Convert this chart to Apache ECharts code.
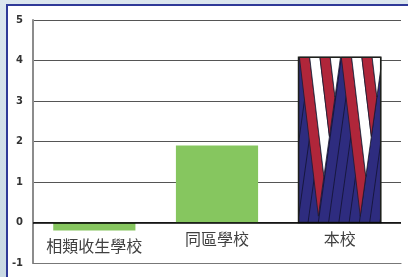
<!DOCTYPE html>
<html>
<head>
<meta charset="utf-8">
<script src="https://cdn.jsdelivr.net/npm/echarts@6/dist/echarts.min.js"></script>
<style>
  html, body { margin: 0; padding: 0; }
  body { width: 408px; height: 277px; overflow: hidden; position: relative;
         background: linear-gradient(to bottom, #dbe6ee, #c9d9e3); }
  #frame { position: absolute; left: 6px; top: 4px; right: -10px; bottom: -10px;
           border-left: 2px solid #2f3a98; border-top: 2px solid #2f3a98; background: #fff; }
  #chart { position: absolute; left: 0; top: 0; width: 408px; height: 277px; }
</style>
</head>
<body>
<div id="frame"></div>
<div id="chart"></div>
<script>
// 數據
var categories = ['相類收生學校', '同區學校', '本校'];
var values = [-0.2, 1.9, 4.08];
var yTicks = [-1, 0, 1, 2, 3, 4, 5];
var flagIndex = 2; // 本校 用圖案填色

var chart = echarts.init(document.getElementById('chart'), null, {renderer: 'canvas'});

// 紋理參數 (柱子寬高比例)
var stripeSlope = 0.24;   // 紅白條 "\" 方向
var cutSlope = 0.28;      // 深藍 "/" 方向
var stripeW = 0.125;
var groupOffsets = [0, 0.51];

// 半平面裁切
function clipPoly(poly, f) {
  var out = [];
  for (var i = 0; i < poly.length; i++) {
    var p = poly[i], q = poly[(i + 1) % poly.length];
    var fp = f(p), fq = f(q);
    if (fp >= 0) out.push(p);
    if ((fp >= 0) !== (fq >= 0)) {
      var t = fp / (fp - fq);
      out.push([p[0] + (q[0] - p[0]) * t, p[1] + (q[1] - p[1]) * t]);
    }
  }
  return out;
}

function renderFlagBar(params, api) {
  var top = api.coord([api.value(0), api.value(1)]);
  var base = api.coord([api.value(0), 0]);
  var w = api.size([1, 0])[0] * 0.67;
  var x0 = top[0] - w / 2, y0 = top[1], h = base[1] - top[1];
  function P(p) { return [x0 + p[0] * w, y0 + p[1] * h]; }
  var rect = [[0, 0], [1, 0], [1, 1], [0, 1]];
  var kids = [{type: 'rect', shape: {x: x0, y: y0, width: w, height: h}, style: {fill: '#2e2c7f'}}];
  // 深藍區的斜線
  for (var d = 0.52 - 0.125 * 3; d < 1.4; d += 0.125) {
    (function (dd) {
      var band = clipPoly(clipPoly(rect, function (p) { return (p[0] + cutSlope * p[1]) - (dd - 0.006); }),
        function (p) { return (dd + 0.006) - (p[0] + cutSlope * p[1]); });
      if (band.length > 2) kids.push({type: 'polygon', shape: {points: band.map(P)}, style: {fill: '#17173f'}});
    })(d);
  }
  groupOffsets.forEach(function (o) {
    var c = o + 0.51;
    for (var k = 0; k < 4; k++) {
      var a = o + 0.01 + k * stripeW, b = a + stripeW;
      var poly = clipPoly(rect, function (p) { return p[0] - stripeSlope * p[1] - a; });
      poly = clipPoly(poly, function (p) { return b - (p[0] - stripeSlope * p[1]); });
      poly = clipPoly(poly, function (p) { return c - (p[0] + cutSlope * p[1]); });
      if (poly.length > 2) {
        kids.push({type: 'polygon', shape: {points: poly.map(P)},
          style: {fill: k % 2 === 0 ? '#b0263a' : '#ffffff', stroke: '#1c1a30', lineWidth: 0.8}});
      }
    }
  });
  kids.push({type: 'rect', shape: {x: x0, y: y0, width: w, height: h}, style: {fill: 'none', stroke: '#1e201c', lineWidth: 1.6}});
  return {type: 'group', children: kids};
}

var option = {
  animation: false,
  grid: {left: 33, right: 7, top: 20, bottom: 14, outerBoundsMode: 'none', containLabel: false},
  xAxis: {
    type: 'category',
    data: categories.map(function (c, i) {
      return values[i] < 0 ? c : {value: c, textStyle: {padding: [0, 0, 7, 0]}};
    }),
    axisLine: {onZero: false, lineStyle: {color: '#777', width: 1.2}},
    axisTick: {show: false},
    axisLabel: {inside: true, interval: 0, hideOverlap: false, margin: 9, fontSize: 16, color: '#404040', fontFamily: 'Noto Sans CJK TC'},
    splitLine: {show: false}
  },
  yAxis: {
    type: 'value',
    min: yTicks[0], max: yTicks[yTicks.length - 1], interval: 1,
    axisLine: {show: true, lineStyle: {color: '#8c8c8c', width: 2}},
    axisTick: {show: false},
    axisLabel: {margin: 10, fontSize: 10, fontWeight: 'bold', color: '#333', fontFamily: 'DejaVu Sans'},
    splitLine: {lineStyle: {color: '#555', width: 1}}
  },
  series: [
    {
      type: 'bar',
      barWidth: '67%',
      data: values.map(function (v, i) { return i === flagIndex ? '-' : v; }),
      itemStyle: {color: '#86c65f'},
      markLine: {
        silent: true, symbol: 'none', label: {show: false},
        lineStyle: {color: '#000', width: 1.5, type: 'solid'},
        data: [{yAxis: 0}]
      }
    },
    {
      type: 'custom',
      renderItem: renderFlagBar,
      data: [[flagIndex, values[flagIndex]]],
      z: 3
    }
  ]
};
chart.setOption(option);
</script>
</body>
</html>
